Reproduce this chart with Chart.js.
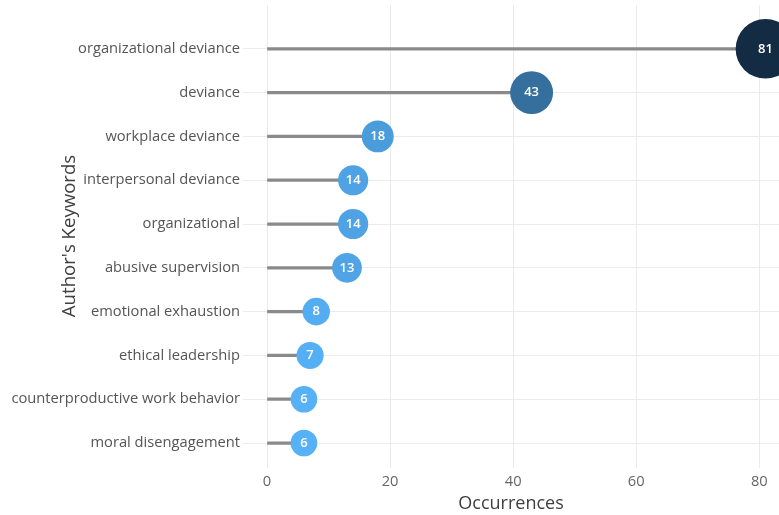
<!DOCTYPE html>
<html>
<head>
<meta charset="utf-8">
<script src="https://cdn.jsdelivr.net/npm/chart.js@4/dist/chart.umd.min.js"></script>
<style>
  html, body { margin: 0; padding: 0; background: #ffffff; }
  #wrap { width: 779px; height: 515px; position: relative; }
</style>
</head>
<body>
<div id="wrap"><canvas id="c" width="779" height="515"></canvas></div>
<script>
// ---- data ----
const categories = [
  "organizational deviance",
  "deviance",
  "workplace deviance",
  "interpersonal deviance",
  "organizational",
  "abusive supervision",
  "emotional exhaustion",
  "ethical leadership",
  "counterproductive work behavior",
  "moral disengagement"
];
const occurrences = [81, 43, 18, 14, 14, 13, 8, 7, 6, 6];
const xTicks = [0, 20, 40, 60, 80];
const xTitle = "Occurrences";
const yTitle = "Author's Keywords";

// ---- helpers ----
const LOW = [86, 177, 247];   // #56B1F7
const HIGH = [19, 43, 67];    // #132B43
const vMin = Math.min(...occurrences), vMax = Math.max(...occurrences);
function colorFor(v) {
  const t = (v - vMin) / (vMax - vMin);
  const c = LOW.map((l, i) => Math.round(l + (HIGH[i] - l) * t));
  return `rgb(${c[0]},${c[1]},${c[2]})`;
}
function radiusFor(v) { return 12 + 0.22 * v; }

const points = occurrences.map((v, i) => ({ x: v, y: i }));
const stems = occurrences.map((v, i) => ({ x: v, y: i }));

const FONT = "'Open Sans', 'Noto Sans', sans-serif";

const labelPlugin = {
  id: 'valueLabels',
  afterDatasetsDraw(chart) {
    const ctx = chart.ctx;
    const meta = chart.getDatasetMeta(0);
    ctx.save();
    ctx.font = `600 13px ${FONT}`;
    ctx.fillStyle = '#ffffff';
    ctx.textAlign = 'center';
    ctx.textBaseline = 'middle';
    meta.data.forEach((el, i) => {
      ctx.fillText(String(occurrences[i]), el.x, el.y);
    });
    ctx.restore();
  }
};

const yTitlePlugin = {
  id: 'yTitle',
  afterDraw(chart) {
    const ctx = chart.ctx;
    ctx.save();
    ctx.font = `18.6px ${FONT}`;
    ctx.fillStyle = '#404040';
    ctx.textAlign = 'center';
    ctx.textBaseline = 'middle';
    ctx.translate(70, 236);
    ctx.rotate(-Math.PI / 2);
    ctx.fillText(yTitle, 0, 0);
    ctx.restore();
  }
};

new Chart(document.getElementById('c'), {
  type: 'bar',
  data: {
    datasets: [
      {
        type: 'scatter',
        data: points,
        order: 0,
        clip: false,
        pointRadius: ctx => radiusFor(occurrences[ctx.dataIndex]),
        pointHoverRadius: ctx => radiusFor(occurrences[ctx.dataIndex]),
        pointBackgroundColor: ctx => colorFor(occurrences[ctx.dataIndex]),
        pointBorderWidth: 0,
        pointBorderColor: 'rgba(0,0,0,0)'
      },
      {
        type: 'bar',
        indexAxis: 'y',
        data: stems,
        order: 1,
        backgroundColor: '#8a8a8a',
        barThickness: 2.6,
        borderWidth: 0
      }
    ]
  },
  options: {
    responsive: false,
    animation: false,
    indexAxis: 'y',
    layout: { autoPadding: false, padding: { top: 5, right: 0, bottom: 0, left: 0 } },
    plugins: {
      legend: { display: false },
      tooltip: { enabled: false }
    },
    scales: {
      x: {
        type: 'linear',
        position: 'bottom',
        offset: false,
        min: -3.9,
        max: 83.2,
        afterBuildTicks: s => { s.ticks = xTicks.map(v => ({ value: v })); },
        afterFit: s => { s.height = 47; s.paddingLeft = 0; s.paddingRight = 0; },
        grid: { color: '#ebebeb', lineWidth: 1, drawTicks: false, offset: false },
        border: { display: false },
        ticks: {
          padding: 5,
          color: '#666666',
          font: { family: FONT, size: 14.7 }
        },
        title: {
          display: true,
          text: xTitle,
          color: '#404040',
          font: { family: FONT, size: 18 },
          padding: { top: 0, bottom: 0 }
        }
      },
      y: {
        type: 'linear',
        position: 'left',
        reverse: true,
        offset: false,
        min: -1,
        max: 9.57,
        afterBuildTicks: s => { s.ticks = categories.map((c, i) => ({ value: i })); },
        afterFit: s => { s.width = 243; s.paddingTop = 0; s.paddingBottom = 0; },
        grid: { color: '#ebebeb', lineWidth: 1, drawTicks: false, offset: false },
        border: { display: false },
        ticks: {
          padding: 3,
          color: '#555555',
          font: { family: FONT, size: 14.7 },
          callback: v => categories[v] ?? ''
        },
        title: { display: false }
      }
    }
  },
  plugins: [labelPlugin, yTitlePlugin]
});
</script>
</body>
</html>
